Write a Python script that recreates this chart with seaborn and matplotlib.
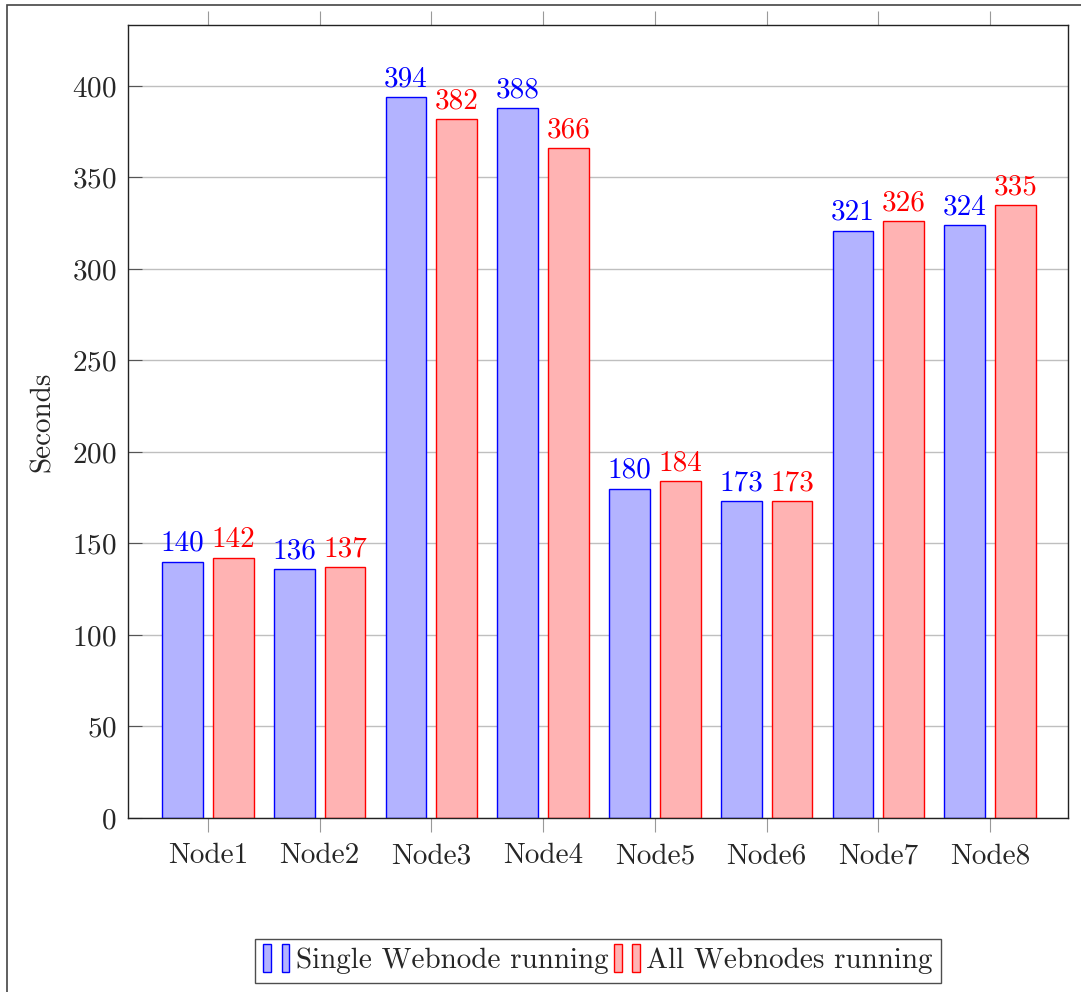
import pandas as pd
import numpy as np
import seaborn as sns
import matplotlib.pyplot as plt
from matplotlib.patches import Rectangle
from matplotlib.legend_handler import HandlerBase

nodes = ['Node1', 'Node2', 'Node3', 'Node4', 'Node5', 'Node6', 'Node7', 'Node8']
single = [140, 136, 394, 388, 180, 173, 321, 324]
all_nodes = [142, 137, 382, 366, 184, 173, 326, 335]
series = ['Single Webnode running', 'All Webnodes running']

fills = {'Single Webnode running': '#b3b3ff', 'All Webnodes running': '#ffb3b3'}
edges = {'Single Webnode running': '#0000ff', 'All Webnodes running': '#ff0000'}

df = pd.DataFrame({
    'Node': nodes * 2,
    'Seconds': single + all_nodes,
    'Series': [series[0]] * len(nodes) + [series[1]] * len(nodes),
})

sns.set_style('white')
plt.rcParams['font.family'] = ['cmr10', 'DejaVu Serif']
plt.rcParams['axes.formatter.use_mathtext'] = True
plt.rcParams['mathtext.fontset'] = 'cm'
fs = 21

fig = plt.figure(figsize=(10.81, 9.92), dpi=100)
ax = fig.add_axes([128 / 1081, 1 - 818 / 992, 940 / 1081, 793 / 992])

sns.barplot(ax=ax, data=df, x='Node', y='Seconds', hue='Series', order=nodes,
            hue_order=series, palette=fills, width=0.908, gap=0.2, saturation=1,
            linewidth=1.0, legend=False)

for cont, s in zip(ax.containers, series):
    for p in cont:
        p.set_edgecolor(edges[s])
        p.set_linewidth(1.0)
    ax.bar_label(cont, color=edges[s], fontsize=fs, padding=3.5)

ax.set_ylim(0, 433.3)
ax.set_xlim(-0.716, 7.698)
ax.set_yticks(np.arange(0, 401, 50))
ax.yaxis.grid(True, color='#bfbfbf', linewidth=1.0)
ax.set_axisbelow(True)
ax.set_xlabel('')
ax.set_ylabel('Seconds', fontsize=fs, labelpad=12)
for sp in ax.spines.values():
    sp.set_color('#222222')
    sp.set_linewidth(1.0)

ax.tick_params(axis='y', direction='in', length=10, color='#555555', labelsize=fs,
               left=True, right=False, pad=8)
ax.tick_params(axis='x', direction='out', length=10, color='#999999', labelsize=fs,
               bottom=True, top=True, pad=8)


class TwoBars(HandlerBase):
    def create_artists(self, legend, orig_handle, xdescent, ydescent, width, height, fontsize, trans):
        fc, ec = orig_handle.get_facecolor(), orig_handle.get_edgecolor()
        h = height * 1.4
        y0 = -ydescent - 0.2 * height
        out = []
        for x0 in (0, 0.62 * width):
            r = Rectangle((x0 - xdescent, y0), 0.26 * width, h, facecolor=fc, edgecolor=ec,
                          linewidth=1.0, transform=trans)
            out.append(r)
        return out


handles = [Rectangle((0, 0), 1, 1, facecolor=fills[s], edgecolor=edges[s]) for s in series]
fig.legend(handles, series, loc='center', bbox_to_anchor=(598 / 1081, 1 - 961 / 992),
           ncol=2, fontsize=fs, frameon=True, fancybox=False, edgecolor='#222222',
           handler_map={Rectangle: TwoBars()}, handlelength=1.0, handletextpad=0.1,
           columnspacing=0.2, borderpad=0.3, borderaxespad=0)
fig.legends[0].get_frame().set_linewidth(1.0)

# outer frame
fig.patches.append(Rectangle((7 / 1081, -0.1), 1.2, 0.1 + 987 / 992, transform=fig.transFigure,
                             fill=False, edgecolor='#444444', linewidth=1.2))

fig.savefig('out.png', dpi=100)
